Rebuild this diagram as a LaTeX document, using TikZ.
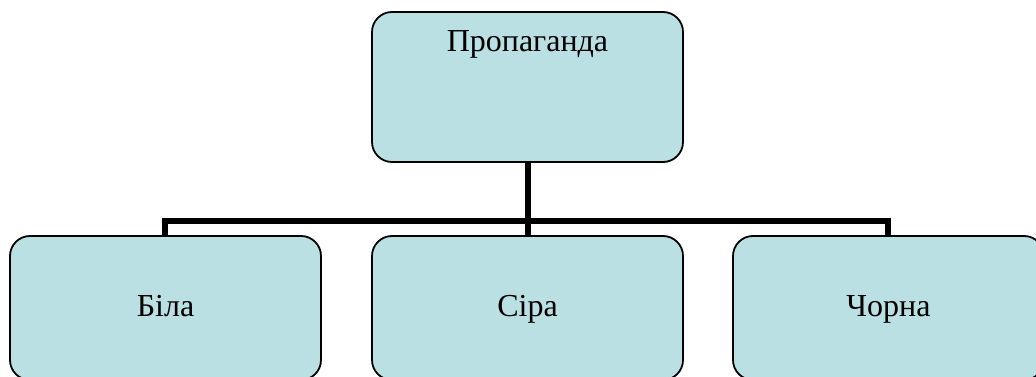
\documentclass[tikz,border=0pt]{standalone}
\usepackage{fontspec}
\setmainfont{Liberation Serif}
\begin{document}
\begin{tikzpicture}[x=1pt,y=-1pt,
  card/.style={draw=black,line width=1.8pt,fill=cardfill,rounded corners=20pt,
    minimum width=311pt,inner sep=0pt,text height=22pt,text depth=6pt,
    font=\fontsize{32}{38}\selectfont},
  conn/.style={draw=black,line width=6pt,line join=miter,line cap=butt},
  lbl/.style={font=\fontsize{32}{38}\selectfont,anchor=base,inner sep=0pt}]
  \definecolor{cardfill}{RGB}{187,224,227}
  \useasboundingbox (0,0) rectangle (1036,377);
  \clip (0,0) rectangle (1036,377);
  % root and the three kinds
  \node[card,minimum height=150pt] (top) at (527.5,87) {};
  \node[lbl] (toplbl) at (527.5,52) {Пропаганда};
  \node[card,minimum height=144pt] (b1) at (165.5,308) {Біла};
  \node[card,minimum height=144pt] (b2) at (527.5,308) {Сіра};
  \node[card,minimum height=144pt] (b3) at (888.5,308) {Чорна};
  \coordinate (hub) at (527.5,220.5);
  % tree connectors
  \draw[conn] (top.south) -- (b2.north);
  \draw[conn] ([xshift=-0.5pt]b1.north) |- (hub) -| ([xshift=-0.5pt]b3.north);
\end{tikzpicture}
\end{document}
